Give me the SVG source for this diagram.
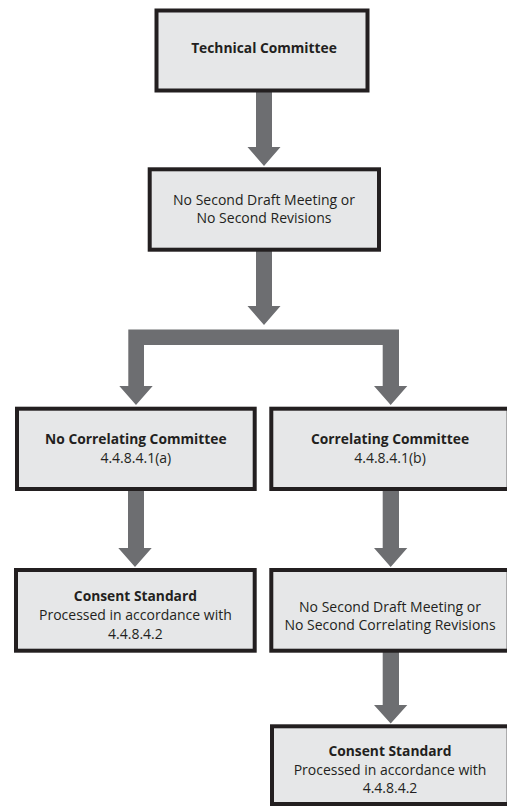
<svg xmlns="http://www.w3.org/2000/svg" width="507" height="807" viewBox="0 0 507 807">
<style>
.box{fill:#e6e7e8;stroke:#231f20;stroke-width:4}
.arr{fill:#6d6e71;stroke:none}
text{font-family:"Open Sans","Liberation Sans",sans-serif;font-size:14px;fill:#231f20;text-anchor:middle}
.b{font-weight:bold;font-size:13.8px}
</style>
<rect width="507" height="807" fill="#ffffff"/>
<g id="connectors">
<path class="arr" d="M256,92 H272 V147 H280.5 L264,166 L247.5,147 H256 Z"/>
<path class="arr" d="M256,251 H272 V306 H280.5 L264,325 L247.5,306 H256 Z"/>
<path class="arr" d="M128.3,329.5 H399 V386 H407.3 L390.7,405 L374,386 H382.7 V345 H144 V386 H152.7 L136,405 L119.3,386 H128.3 Z"/>
<path class="arr" d="M128,491 H144 V548 H151.7 L135,567 L118.3,548 H128 Z"/>
<path class="arr" d="M382.7,491 H399 V548 H407.3 L390.7,567 L374,548 H382.7 Z"/>
<path class="arr" d="M382.7,652 H399 V705 H407.3 L390.7,723.5 L374,705 H382.7 Z"/>
</g>
<g id="technical-committee">
<rect class="box" x="156.5" y="10.5" width="211" height="80"/>
<text class="b" x="264" y="53">Technical Committee</text>
</g>
<g id="no-second-draft">
<rect class="box" x="149.7" y="169.3" width="229.3" height="80.4"/>
<text x="264" y="204.5">No Second Draft Meeting or</text>
<text x="264" y="223">No Second Revisions</text>
</g>
<g id="no-correlating-committee">
<rect class="box" x="17" y="408.7" width="237.7" height="80.3"/>
<text class="b" x="135.8" y="444">No Correlating Committee</text>
<text x="135.8" y="462.5">4.4.8.4.1(a)</text>
</g>
<g id="correlating-committee">
<rect class="box" x="271.3" y="408.7" width="237.4" height="80.3"/>
<text class="b" x="390" y="444">Correlating Committee</text>
<text x="390" y="462.5">4.4.8.4.1(b)</text>
</g>
<g id="consent-standard-a">
<rect class="box" x="16" y="570" width="238.7" height="80.7"/>
<text class="b" x="135.4" y="601">Consent Standard</text>
<text x="135.4" y="620">Processed in accordance with</text>
<text x="135.4" y="638.5">4.4.8.4.2</text>
</g>
<g id="no-second-correlating">
<rect class="box" x="271.3" y="570" width="237.4" height="80.7"/>
<text x="390" y="611.5">No Second Draft Meeting or</text>
<text x="390" y="630">No Second Correlating Revisions</text>
</g>
<g id="consent-standard-b">
<rect class="box" x="272" y="726.3" width="236.7" height="77.7"/>
<text class="b" x="390" y="755.5">Consent Standard</text>
<text x="390" y="774.5">Processed in accordance with</text>
<text x="390" y="793">4.4.8.4.2</text>
</g>
</svg>
